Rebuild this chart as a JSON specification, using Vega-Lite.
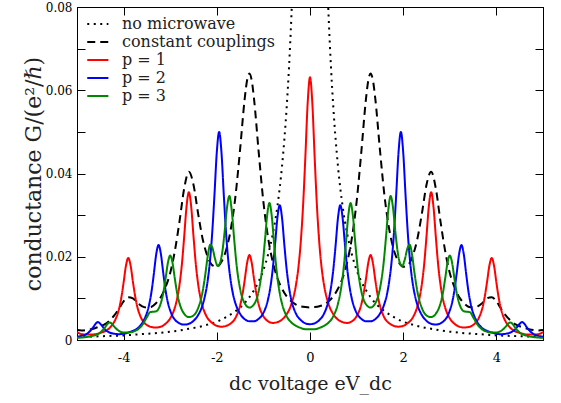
{
"$schema":"https://vega.github.io/schema/vega-lite/v6.json",
"width":466,"height":333,
"autosize":{"type":"none"},
"padding":{"left":77,"top":7,"right":18,"bottom":63},
"background":"white",
"config":{
 "font":"DejaVu Serif",
 "view":{"stroke":"black","strokeWidth":1},
 "style":{"guide-label":{"font":"DejaVu Serif"},"guide-title":{"font":"DejaVu Serif"}},
 "axis":{"grid":false,"domainColor":"black","tickColor":"black","labelFont":"DejaVu Serif","titleFont":"DejaVu Serif","labelColor":"black","titleColor":"#222","titleFontWeight":"normal","labelFlush":false,"tickWidth":1},
 "legend":{"title":null,"orient":"top-left","offset":7,"padding":0,"labelFontSize":16,"labelFont":"DejaVu Serif","labelColor":"#222","symbolType":"M-0.75,0H1.6","symbolStrokeWidth":2,"symbolSize":324,"labelOffset":18,"rowPadding":0}
},
"datasets":{
"nomw":[
{"x":0,"y":0.248},{"x":0.1,"y":0.218},{"x":0.2,"y":0.16},{"x":0.3,"y":0.111},{"x":0.35,"y":0.0925},{"x":0.4,"y":0.0776},{"x":0.45,"y":0.0656},{"x":0.5,"y":0.056},{"x":0.6,"y":0.0418},{"x":0.7,"y":0.0321},{"x":0.8,"y":0.0254},{"x":0.9,"y":0.0205},{"x":1.0,"y":0.0168},{"x":1.1,"y":0.0141},{"x":1.2,"y":0.012},{"x":1.3,"y":0.0103},{"x":1.4,"y":0.0089},{"x":1.5,"y":0.0078},{"x":1.6,"y":0.0069},{"x":1.8,"y":0.0055},{"x":2.0,"y":0.0044},{"x":2.2,"y":0.0037},{"x":2.4,"y":0.0031},{"x":2.6,"y":0.0027},{"x":2.8,"y":0.0023},{"x":3.0,"y":0.002},{"x":3.25,"y":0.0017},{"x":3.5,"y":0.0015},{"x":3.75,"y":0.0013},{"x":4.0,"y":0.0011},{"x":4.25,"y":0.001},{"x":4.5,"y":0.0009},{"x":4.75,"y":0.0008},{"x":5.0,"y":0.0007},
{"x":-0.1,"y":0.218},{"x":-0.2,"y":0.16},{"x":-0.3,"y":0.111},{"x":-0.35,"y":0.0925},{"x":-0.4,"y":0.0776},{"x":-0.45,"y":0.0656},{"x":-0.5,"y":0.056},{"x":-0.6,"y":0.0418},{"x":-0.7,"y":0.0321},{"x":-0.8,"y":0.0254},{"x":-0.9,"y":0.0205},{"x":-1.0,"y":0.0168},{"x":-1.1,"y":0.0141},{"x":-1.2,"y":0.012},{"x":-1.3,"y":0.0103},{"x":-1.4,"y":0.0089},{"x":-1.5,"y":0.0078},{"x":-1.6,"y":0.0069},{"x":-1.8,"y":0.0055},{"x":-2.0,"y":0.0044},{"x":-2.2,"y":0.0037},{"x":-2.4,"y":0.0031},{"x":-2.6,"y":0.0027},{"x":-2.8,"y":0.0023},{"x":-3.0,"y":0.002},{"x":-3.25,"y":0.0017},{"x":-3.5,"y":0.0015},{"x":-3.75,"y":0.0013},{"x":-4.0,"y":0.0011},{"x":-4.25,"y":0.001},{"x":-4.5,"y":0.0009},{"x":-4.75,"y":0.0008},{"x":-5.0,"y":0.0007}
],
"cc":[
{"x":0,"y":0.0078},{"x":0.1,"y":0.0079},{"x":0.2,"y":0.0081},{"x":0.3,"y":0.0085},{"x":0.4,"y":0.0093},{"x":0.5,"y":0.0105},{"x":0.6,"y":0.0123},{"x":0.7,"y":0.0149},{"x":0.8,"y":0.0188},{"x":0.9,"y":0.0246},{"x":1.0,"y":0.0332},{"x":1.1,"y":0.045},{"x":1.2,"y":0.0578},{"x":1.25,"y":0.0623},{"x":1.3,"y":0.064},{"x":1.35,"y":0.0624},{"x":1.4,"y":0.0581},{"x":1.5,"y":0.0458},{"x":1.6,"y":0.0345},{"x":1.7,"y":0.0266},{"x":1.8,"y":0.0216},{"x":1.9,"y":0.0188},{"x":2.0,"y":0.0176},{"x":2.1,"y":0.018},{"x":2.2,"y":0.0201},{"x":2.3,"y":0.0241},{"x":2.4,"y":0.0303},{"x":2.5,"y":0.0373},{"x":2.6,"y":0.0404},{"x":2.7,"y":0.0364},{"x":2.8,"y":0.0285},{"x":2.9,"y":0.0214},{"x":3.0,"y":0.0161},{"x":3.1,"y":0.0127},{"x":3.2,"y":0.0103},{"x":3.3,"y":0.0089},{"x":3.4,"y":0.008},{"x":3.5,"y":0.0078},{"x":3.6,"y":0.0081},{"x":3.7,"y":0.0089},{"x":3.8,"y":0.01},{"x":3.9,"y":0.0103},{"x":4.0,"y":0.0093},{"x":4.1,"y":0.0075},{"x":4.2,"y":0.0059},{"x":4.3,"y":0.0047},{"x":4.4,"y":0.0038},{"x":4.5,"y":0.0033},{"x":4.6,"y":0.0029},{"x":4.7,"y":0.0026},{"x":4.8,"y":0.0024},{"x":4.9,"y":0.0023},{"x":5.0,"y":0.0024},
{"x":-0.1,"y":0.0079},{"x":-0.2,"y":0.0081},{"x":-0.3,"y":0.0085},{"x":-0.4,"y":0.0093},{"x":-0.5,"y":0.0105},{"x":-0.6,"y":0.0123},{"x":-0.7,"y":0.0149},{"x":-0.8,"y":0.0188},{"x":-0.9,"y":0.0246},{"x":-1.0,"y":0.0332},{"x":-1.1,"y":0.045},{"x":-1.2,"y":0.0578},{"x":-1.25,"y":0.0623},{"x":-1.3,"y":0.064},{"x":-1.35,"y":0.0624},{"x":-1.4,"y":0.0581},{"x":-1.5,"y":0.0458},{"x":-1.6,"y":0.0345},{"x":-1.7,"y":0.0266},{"x":-1.8,"y":0.0216},{"x":-1.9,"y":0.0188},{"x":-2.0,"y":0.0176},{"x":-2.1,"y":0.018},{"x":-2.2,"y":0.0201},{"x":-2.3,"y":0.0241},{"x":-2.4,"y":0.0303},{"x":-2.5,"y":0.0373},{"x":-2.6,"y":0.0404},{"x":-2.7,"y":0.0364},{"x":-2.8,"y":0.0285},{"x":-2.9,"y":0.0214},{"x":-3.0,"y":0.0161},{"x":-3.1,"y":0.0127},{"x":-3.2,"y":0.0103},{"x":-3.3,"y":0.0089},{"x":-3.4,"y":0.008},{"x":-3.5,"y":0.0078},{"x":-3.6,"y":0.0081},{"x":-3.7,"y":0.0089},{"x":-3.8,"y":0.01},{"x":-3.9,"y":0.0103},{"x":-4.0,"y":0.0093},{"x":-4.1,"y":0.0075},{"x":-4.2,"y":0.0059},{"x":-4.3,"y":0.0047},{"x":-4.4,"y":0.0038},{"x":-4.5,"y":0.0033},{"x":-4.6,"y":0.0029},{"x":-4.7,"y":0.0026},{"x":-4.8,"y":0.0024},{"x":-4.9,"y":0.0023},{"x":-5.0,"y":0.0024}
],
"p1":[
{"x":0,"y":0.0631},{"x":0.05,"y":0.0569},{"x":0.1,"y":0.0439},{"x":0.15,"y":0.032},{"x":0.2,"y":0.0233},{"x":0.25,"y":0.0173},{"x":0.3,"y":0.0133},{"x":0.4,"y":0.0086},{"x":0.5,"y":0.0062},{"x":0.6,"y":0.0049},{"x":0.7,"y":0.0043},{"x":0.8,"y":0.0041},{"x":0.9,"y":0.0045},{"x":1.0,"y":0.0057},{"x":1.1,"y":0.0085},{"x":1.15,"y":0.0111},{"x":1.2,"y":0.0146},{"x":1.25,"y":0.0185},{"x":1.3,"y":0.0204},{"x":1.35,"y":0.0185},{"x":1.4,"y":0.0145},{"x":1.45,"y":0.0109},{"x":1.5,"y":0.0083},{"x":1.6,"y":0.0053},{"x":1.7,"y":0.004},{"x":1.8,"y":0.0034},{"x":1.9,"y":0.0032},{"x":2.0,"y":0.0034},{"x":2.1,"y":0.0041},{"x":2.2,"y":0.0053},{"x":2.3,"y":0.0079},{"x":2.35,"y":0.0101},{"x":2.4,"y":0.0134},{"x":2.45,"y":0.0182},{"x":2.5,"y":0.0249},{"x":2.55,"y":0.0321},{"x":2.6,"y":0.0355},{"x":2.65,"y":0.032},{"x":2.7,"y":0.0248},{"x":2.75,"y":0.0181},{"x":2.8,"y":0.0133},{"x":2.85,"y":0.01},{"x":2.9,"y":0.0078},{"x":3.0,"y":0.0052},{"x":3.1,"y":0.0039},{"x":3.2,"y":0.0032},{"x":3.3,"y":0.003},{"x":3.4,"y":0.0031},{"x":3.5,"y":0.0036},{"x":3.6,"y":0.0048},{"x":3.65,"y":0.006},{"x":3.7,"y":0.0077},{"x":3.75,"y":0.0104},{"x":3.8,"y":0.014},{"x":3.85,"y":0.0179},{"x":3.9,"y":0.0197},{"x":3.95,"y":0.0178},{"x":4.0,"y":0.0138},{"x":4.05,"y":0.0101},{"x":4.1,"y":0.0074},{"x":4.15,"y":0.0056},{"x":4.2,"y":0.0044},{"x":4.3,"y":0.0029},{"x":4.4,"y":0.0021},{"x":4.5,"y":0.0017},{"x":4.6,"y":0.0014},{"x":4.7,"y":0.0013},{"x":4.8,"y":0.0013},{"x":4.9,"y":0.0014},{"x":5.0,"y":0.0019},
{"x":-0.05,"y":0.0569},{"x":-0.1,"y":0.0439},{"x":-0.15,"y":0.032},{"x":-0.2,"y":0.0233},{"x":-0.25,"y":0.0173},{"x":-0.3,"y":0.0133},{"x":-0.4,"y":0.0086},{"x":-0.5,"y":0.0062},{"x":-0.6,"y":0.0049},{"x":-0.7,"y":0.0043},{"x":-0.8,"y":0.0041},{"x":-0.9,"y":0.0045},{"x":-1.0,"y":0.0057},{"x":-1.1,"y":0.0085},{"x":-1.15,"y":0.0111},{"x":-1.2,"y":0.0146},{"x":-1.25,"y":0.0185},{"x":-1.3,"y":0.0204},{"x":-1.35,"y":0.0185},{"x":-1.4,"y":0.0145},{"x":-1.45,"y":0.0109},{"x":-1.5,"y":0.0083},{"x":-1.6,"y":0.0053},{"x":-1.7,"y":0.004},{"x":-1.8,"y":0.0034},{"x":-1.9,"y":0.0032},{"x":-2.0,"y":0.0034},{"x":-2.1,"y":0.0041},{"x":-2.2,"y":0.0053},{"x":-2.3,"y":0.0079},{"x":-2.35,"y":0.0101},{"x":-2.4,"y":0.0134},{"x":-2.45,"y":0.0182},{"x":-2.5,"y":0.0249},{"x":-2.55,"y":0.0321},{"x":-2.6,"y":0.0355},{"x":-2.65,"y":0.032},{"x":-2.7,"y":0.0248},{"x":-2.75,"y":0.0181},{"x":-2.8,"y":0.0133},{"x":-2.85,"y":0.01},{"x":-2.9,"y":0.0078},{"x":-3.0,"y":0.0052},{"x":-3.1,"y":0.0039},{"x":-3.2,"y":0.0032},{"x":-3.3,"y":0.003},{"x":-3.4,"y":0.0031},{"x":-3.5,"y":0.0036},{"x":-3.6,"y":0.0048},{"x":-3.65,"y":0.006},{"x":-3.7,"y":0.0077},{"x":-3.75,"y":0.0104},{"x":-3.8,"y":0.014},{"x":-3.85,"y":0.0179},{"x":-3.9,"y":0.0197},{"x":-3.95,"y":0.0178},{"x":-4.0,"y":0.0138},{"x":-4.05,"y":0.0101},{"x":-4.1,"y":0.0074},{"x":-4.15,"y":0.0056},{"x":-4.2,"y":0.0044},{"x":-4.3,"y":0.0029},{"x":-4.4,"y":0.0021},{"x":-4.5,"y":0.0017},{"x":-4.6,"y":0.0014},{"x":-4.7,"y":0.0013},{"x":-4.8,"y":0.0013},{"x":-4.9,"y":0.0014},{"x":-5.0,"y":0.0019}
],
"p2":[
{"x":0,"y":0.0038},{"x":0.1,"y":0.004},{"x":0.2,"y":0.0048},{"x":0.3,"y":0.0063},{"x":0.4,"y":0.0096},{"x":0.45,"y":0.0126},{"x":0.5,"y":0.0169},{"x":0.55,"y":0.0228},{"x":0.6,"y":0.0293},{"x":0.65,"y":0.0324},{"x":0.7,"y":0.0293},{"x":0.75,"y":0.0229},{"x":0.8,"y":0.017},{"x":0.85,"y":0.0127},{"x":0.9,"y":0.0098},{"x":1.0,"y":0.0065},{"x":1.1,"y":0.0051},{"x":1.2,"y":0.0045},{"x":1.3,"y":0.0045},{"x":1.4,"y":0.005},{"x":1.5,"y":0.0063},{"x":1.6,"y":0.0088},{"x":1.65,"y":0.0109},{"x":1.7,"y":0.0141},{"x":1.75,"y":0.0187},{"x":1.8,"y":0.0255},{"x":1.85,"y":0.0349},{"x":1.9,"y":0.0451},{"x":1.95,"y":0.05},{"x":2.0,"y":0.0451},{"x":2.05,"y":0.0349},{"x":2.1,"y":0.0255},{"x":2.15,"y":0.0186},{"x":2.2,"y":0.0139},{"x":2.25,"y":0.0108},{"x":2.3,"y":0.0086},{"x":2.4,"y":0.006},{"x":2.5,"y":0.0046},{"x":2.6,"y":0.0039},{"x":2.7,"y":0.0037},{"x":2.8,"y":0.004},{"x":2.9,"y":0.0049},{"x":2.95,"y":0.0057},{"x":3.0,"y":0.0071},{"x":3.05,"y":0.009},{"x":3.1,"y":0.012},{"x":3.15,"y":0.0162},{"x":3.2,"y":0.0207},{"x":3.25,"y":0.0228},{"x":3.3,"y":0.0206},{"x":3.35,"y":0.016},{"x":3.4,"y":0.0117},{"x":3.45,"y":0.0086},{"x":3.5,"y":0.0065},{"x":3.55,"y":0.0051},{"x":3.6,"y":0.0041},{"x":3.7,"y":0.0028},{"x":3.8,"y":0.0022},{"x":3.9,"y":0.0018},{"x":4.0,"y":0.0015},{"x":4.1,"y":0.0014},{"x":4.2,"y":0.0015},{"x":4.3,"y":0.0018},{"x":4.35,"y":0.0021},{"x":4.4,"y":0.0025},{"x":4.45,"y":0.0032},{"x":4.5,"y":0.0039},{"x":4.55,"y":0.0043},{"x":4.6,"y":0.0039},{"x":4.65,"y":0.0031},{"x":4.7,"y":0.0024},{"x":4.8,"y":0.0014},{"x":4.9,"y":0.001},{"x":5.0,"y":0.0008},
{"x":-0.1,"y":0.004},{"x":-0.2,"y":0.0048},{"x":-0.3,"y":0.0063},{"x":-0.4,"y":0.0096},{"x":-0.45,"y":0.0126},{"x":-0.5,"y":0.0169},{"x":-0.55,"y":0.0228},{"x":-0.6,"y":0.0293},{"x":-0.65,"y":0.0324},{"x":-0.7,"y":0.0293},{"x":-0.75,"y":0.0229},{"x":-0.8,"y":0.017},{"x":-0.85,"y":0.0127},{"x":-0.9,"y":0.0098},{"x":-1.0,"y":0.0065},{"x":-1.1,"y":0.0051},{"x":-1.2,"y":0.0045},{"x":-1.3,"y":0.0045},{"x":-1.4,"y":0.005},{"x":-1.5,"y":0.0063},{"x":-1.6,"y":0.0088},{"x":-1.65,"y":0.0109},{"x":-1.7,"y":0.0141},{"x":-1.75,"y":0.0187},{"x":-1.8,"y":0.0255},{"x":-1.85,"y":0.0349},{"x":-1.9,"y":0.0451},{"x":-1.95,"y":0.05},{"x":-2.0,"y":0.0451},{"x":-2.05,"y":0.0349},{"x":-2.1,"y":0.0255},{"x":-2.15,"y":0.0186},{"x":-2.2,"y":0.0139},{"x":-2.25,"y":0.0108},{"x":-2.3,"y":0.0086},{"x":-2.4,"y":0.006},{"x":-2.5,"y":0.0046},{"x":-2.6,"y":0.0039},{"x":-2.7,"y":0.0037},{"x":-2.8,"y":0.004},{"x":-2.9,"y":0.0049},{"x":-2.95,"y":0.0057},{"x":-3.0,"y":0.0071},{"x":-3.05,"y":0.009},{"x":-3.1,"y":0.012},{"x":-3.15,"y":0.0162},{"x":-3.2,"y":0.0207},{"x":-3.25,"y":0.0228},{"x":-3.3,"y":0.0206},{"x":-3.35,"y":0.016},{"x":-3.4,"y":0.0117},{"x":-3.45,"y":0.0086},{"x":-3.5,"y":0.0065},{"x":-3.55,"y":0.0051},{"x":-3.6,"y":0.0041},{"x":-3.7,"y":0.0028},{"x":-3.8,"y":0.0022},{"x":-3.9,"y":0.0018},{"x":-4.0,"y":0.0015},{"x":-4.1,"y":0.0014},{"x":-4.2,"y":0.0015},{"x":-4.3,"y":0.0018},{"x":-4.35,"y":0.0021},{"x":-4.4,"y":0.0025},{"x":-4.45,"y":0.0032},{"x":-4.5,"y":0.0039},{"x":-4.55,"y":0.0043},{"x":-4.6,"y":0.0039},{"x":-4.65,"y":0.0031},{"x":-4.7,"y":0.0024},{"x":-4.8,"y":0.0014},{"x":-4.9,"y":0.001},{"x":-5.0,"y":0.0008}
],
"p3":[
{"x":0,"y":0.0026},{"x":0.1,"y":0.0026},{"x":0.2,"y":0.0029},{"x":0.3,"y":0.0034},{"x":0.4,"y":0.0042},{"x":0.5,"y":0.0057},{"x":0.6,"y":0.0087},{"x":0.65,"y":0.0113},{"x":0.72,"y":0.017},{"x":0.77,"y":0.0231},{"x":0.82,"y":0.0297},{"x":0.87,"y":0.0329},{"x":0.92,"y":0.0299},{"x":0.97,"y":0.0235},{"x":1.02,"y":0.0177},{"x":1.1,"y":0.0118},{"x":1.2,"y":0.0086},{"x":1.3,"y":0.0078},{"x":1.4,"y":0.0088},{"x":1.5,"y":0.0123},{"x":1.58,"y":0.0185},{"x":1.63,"y":0.0246},{"x":1.68,"y":0.0312},{"x":1.73,"y":0.0346},{"x":1.78,"y":0.0319},{"x":1.83,"y":0.0262},{"x":1.88,"y":0.0213},{"x":1.93,"y":0.0185},{"x":1.98,"y":0.0178},{"x":2.04,"y":0.0196},{"x":2.09,"y":0.022},{"x":2.14,"y":0.0229},{"x":2.19,"y":0.0205},{"x":2.24,"y":0.0163},{"x":2.3,"y":0.0119},{"x":2.4,"y":0.0077},{"x":2.5,"y":0.0059},{"x":2.6,"y":0.0055},{"x":2.7,"y":0.0063},{"x":2.8,"y":0.0088},{"x":2.85,"y":0.0112},{"x":2.9,"y":0.0147},{"x":2.95,"y":0.0185},{"x":3.0,"y":0.0203},{"x":3.05,"y":0.0185},{"x":3.1,"y":0.0147},{"x":3.15,"y":0.0112},{"x":3.2,"y":0.0089},{"x":3.25,"y":0.0075},{"x":3.3,"y":0.0069},{"x":3.35,"y":0.0068},{"x":3.43,"y":0.0067},{"x":3.5,"y":0.0055},{"x":3.6,"y":0.0036},{"x":3.7,"y":0.0025},{"x":3.8,"y":0.002},{"x":3.9,"y":0.0018},{"x":4.0,"y":0.0018},{"x":4.1,"y":0.0022},{"x":4.2,"y":0.0032},{"x":4.25,"y":0.0039},{"x":4.3,"y":0.0042},{"x":4.35,"y":0.0038},{"x":4.4,"y":0.003},{"x":4.5,"y":0.0018},{"x":4.6,"y":0.0012},{"x":4.7,"y":0.0009},{"x":4.8,"y":0.0007},{"x":4.9,"y":0.0006},{"x":5.0,"y":0.0005},
{"x":-0.1,"y":0.0026},{"x":-0.2,"y":0.0029},{"x":-0.3,"y":0.0034},{"x":-0.4,"y":0.0042},{"x":-0.5,"y":0.0057},{"x":-0.6,"y":0.0087},{"x":-0.65,"y":0.0113},{"x":-0.72,"y":0.017},{"x":-0.77,"y":0.0231},{"x":-0.82,"y":0.0297},{"x":-0.87,"y":0.0329},{"x":-0.92,"y":0.0299},{"x":-0.97,"y":0.0235},{"x":-1.02,"y":0.0177},{"x":-1.1,"y":0.0118},{"x":-1.2,"y":0.0086},{"x":-1.3,"y":0.0078},{"x":-1.4,"y":0.0088},{"x":-1.5,"y":0.0123},{"x":-1.58,"y":0.0185},{"x":-1.63,"y":0.0246},{"x":-1.68,"y":0.0312},{"x":-1.73,"y":0.0346},{"x":-1.78,"y":0.0319},{"x":-1.83,"y":0.0262},{"x":-1.88,"y":0.0213},{"x":-1.93,"y":0.0185},{"x":-1.98,"y":0.0178},{"x":-2.04,"y":0.0196},{"x":-2.09,"y":0.022},{"x":-2.14,"y":0.0229},{"x":-2.19,"y":0.0205},{"x":-2.24,"y":0.0163},{"x":-2.3,"y":0.0119},{"x":-2.4,"y":0.0077},{"x":-2.5,"y":0.0059},{"x":-2.6,"y":0.0055},{"x":-2.7,"y":0.0063},{"x":-2.8,"y":0.0088},{"x":-2.85,"y":0.0112},{"x":-2.9,"y":0.0147},{"x":-2.95,"y":0.0185},{"x":-3.0,"y":0.0203},{"x":-3.05,"y":0.0185},{"x":-3.1,"y":0.0147},{"x":-3.15,"y":0.0112},{"x":-3.2,"y":0.0089},{"x":-3.25,"y":0.0075},{"x":-3.3,"y":0.0069},{"x":-3.35,"y":0.0068},{"x":-3.43,"y":0.0067},{"x":-3.5,"y":0.0055},{"x":-3.6,"y":0.0036},{"x":-3.7,"y":0.0025},{"x":-3.8,"y":0.002},{"x":-3.9,"y":0.0018},{"x":-4.0,"y":0.0018},{"x":-4.1,"y":0.0022},{"x":-4.2,"y":0.0032},{"x":-4.25,"y":0.0039},{"x":-4.3,"y":0.0042},{"x":-4.35,"y":0.0038},{"x":-4.4,"y":0.003},{"x":-4.5,"y":0.0018},{"x":-4.6,"y":0.0012},{"x":-4.7,"y":0.0009},{"x":-4.8,"y":0.0007},{"x":-4.9,"y":0.0006},{"x":-5.0,"y":0.0005}
]
},
"layer":[
{"layer":[
 {"data":{"name":"nomw"},"mark":{"type":"line","clip":true,"strokeWidth":2,"interpolate":"monotone"},
  "encoding":{
   "x":{"field":"x","type":"quantitative","scale":{"domain":[-5,5],"nice":false,"zero":false},
        "axis":{"orient":"bottom","values":[-4,-2,0,2,4],"tickSize":-8,"labelPadding":19,"labelExpr":"'' + datum.value","labelFont":"DejaVu Serif","labelFontSize":13,"title":"dc voltage eV_dc","titleFont":"DejaVu Serif","titleFontSize":19,"titlePadding":10}},
   "y":{"field":"y","type":"quantitative","scale":{"domain":[0,0.08],"nice":false,"zero":true},
        "axis":{"orient":"left","values":[0,0.01,0.02,0.03,0.04,0.05,0.06,0.07,0.08],"tickSize":-8,"labelPadding":13,"labelExpr":"datum.value == 0 ? '0' : (round(datum.value*100) % 2 == 0 ? format(datum.value, '.2f') : '')","labelFont":"DejaVu Serif","labelFontSize":12,"title":"conductance G/(e²/ℏ)","titleFont":"DejaVu Serif","titleFontSize":22,"titlePadding":0}},
   "color":{"datum":"no microwave","type":"nominal","scale":{"domain":["no microwave","constant couplings","p = 1","p = 2","p = 3"],"range":["black","black","#ff0000","#0000ff","#008800"]},"legend":{"labelFont":"DejaVu Serif"}},
   "strokeDash":{"datum":"no microwave","type":"nominal","scale":{"domain":["no microwave","constant couplings","p = 1","p = 2","p = 3"],"range":[[2,4.5],[8,5],[1,0],[1,0],[1,0]]},"legend":{"labelFont":"DejaVu Serif"}}
  }},
 {"data":{"name":"cc"},"mark":{"type":"line","clip":true,"strokeWidth":2,"interpolate":"monotone"},
  "encoding":{"x":{"field":"x","type":"quantitative"},"y":{"field":"y","type":"quantitative"},
   "color":{"datum":"constant couplings","type":"nominal"},"strokeDash":{"datum":"constant couplings","type":"nominal"}}},
 {"data":{"name":"p1"},"mark":{"type":"line","clip":true,"strokeWidth":2,"interpolate":"monotone"},
  "encoding":{"x":{"field":"x","type":"quantitative"},"y":{"field":"y","type":"quantitative"},
   "color":{"datum":"p = 1","type":"nominal"},"strokeDash":{"datum":"p = 1","type":"nominal"}}},
 {"data":{"name":"p2"},"mark":{"type":"line","clip":true,"strokeWidth":2,"interpolate":"monotone"},
  "encoding":{"x":{"field":"x","type":"quantitative"},"y":{"field":"y","type":"quantitative"},
   "color":{"datum":"p = 2","type":"nominal"},"strokeDash":{"datum":"p = 2","type":"nominal"}}},
 {"data":{"name":"p3"},"mark":{"type":"line","clip":true,"strokeWidth":2,"interpolate":"monotone"},
  "encoding":{"x":{"field":"x","type":"quantitative"},"y":{"field":"y","type":"quantitative"},
   "color":{"datum":"p = 3","type":"nominal"},"strokeDash":{"datum":"p = 3","type":"nominal"}}}
]},
{"data":{"name":"p1"},"mark":{"type":"point","opacity":0},
 "encoding":{
  "x":{"field":"x","type":"quantitative","axis":{"orient":"top","values":[-4,-2,0,2,4],"labels":false,"tickSize":-8,"title":null}},
  "y":{"field":"y","type":"quantitative","axis":{"orient":"right","values":[0,0.01,0.02,0.03,0.04,0.05,0.06,0.07,0.08],"labels":false,"tickSize":-8,"title":null}}
 }}
],
"resolve":{"axis":{"x":"independent","y":"independent"}}
}
